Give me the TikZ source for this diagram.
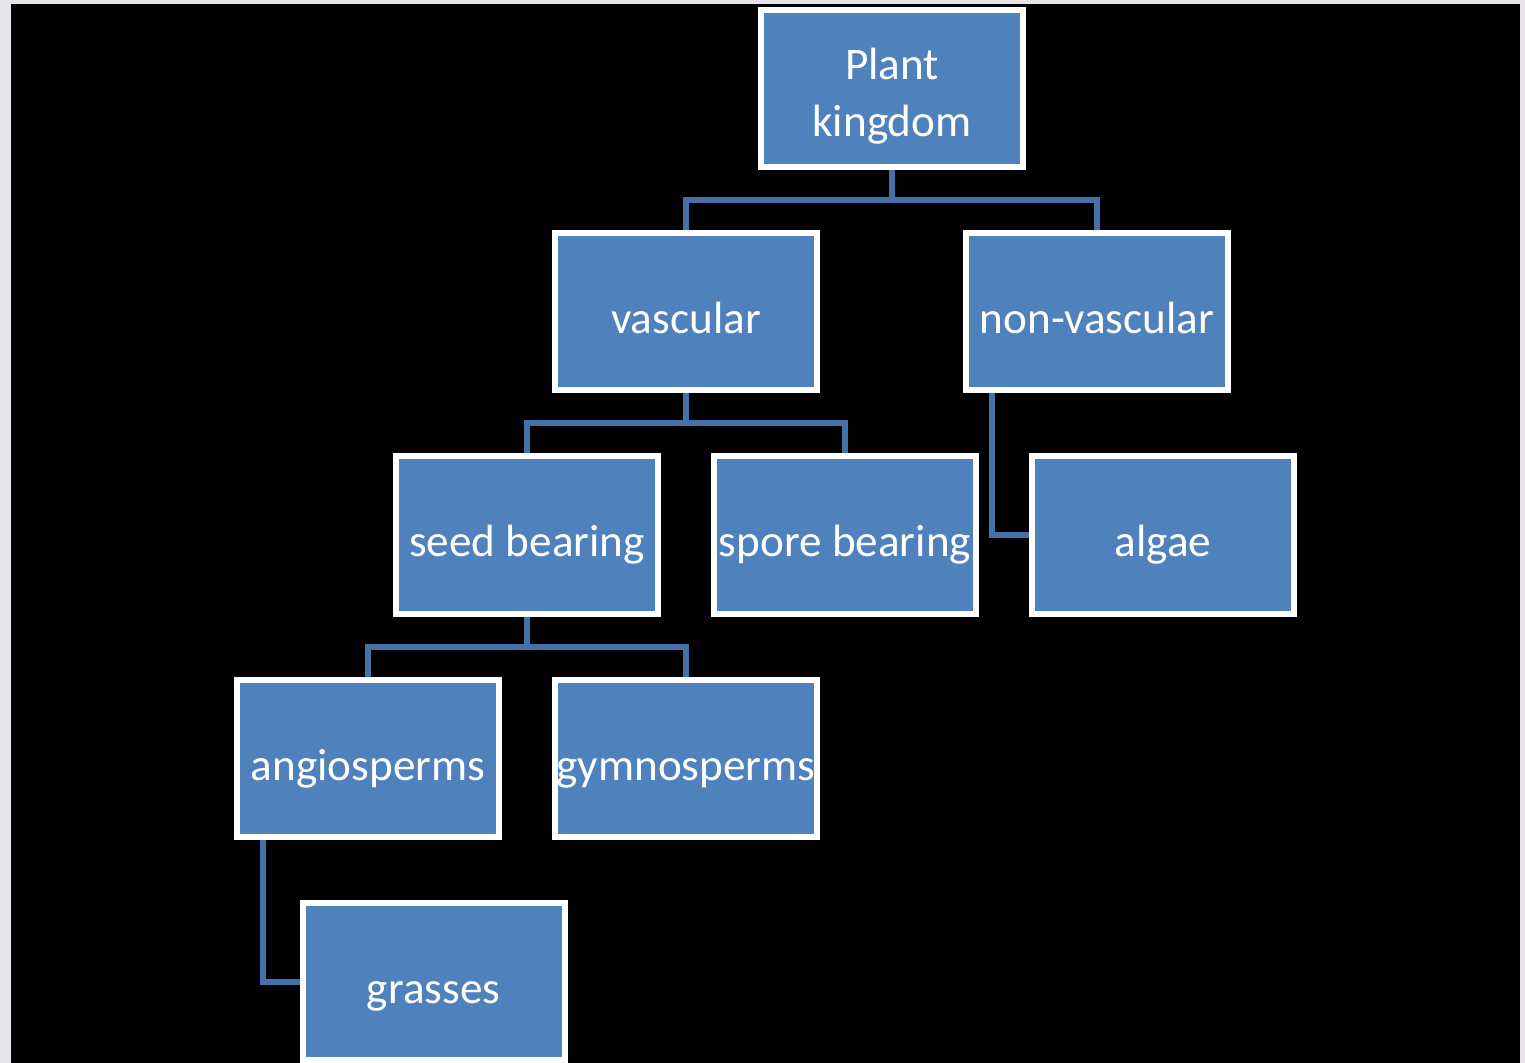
\documentclass[tikz,border=0pt]{standalone}
\usepackage{fontspec}
\setmainfont{Carlito}
\usepackage{xcolor}
\usepackage{tikz}
\usetikzlibrary{calc,positioning}
\definecolor{boxblue}{RGB}{79,129,189}
\definecolor{linkblue}{RGB}{68,114,168}
\definecolor{pagegray}{RGB}{231,229,234}

\begin{document}
\begin{tikzpicture}[x=0.5pt,y=-0.5pt,
  box/.style={draw=white,line width=3pt,fill=boxblue,text=white,
    minimum width=131pt,minimum height=78.5pt,inner sep=0pt,align=center,
    text height=26pt,text depth=4pt,
    font=\fontsize{22.6}{28.5}\selectfont},
  link/.style={draw=linkblue,line width=3pt}]
\useasboundingbox (0,0) rectangle (1525,1063);
\clip (0,0) rectangle (1525,1063);
\fill[pagegray] (0,0) rectangle (1525,1063);
\fill[black] (11,4) rectangle (1520,1063);
% boxes
\node[box,text height=52.5pt] (plant) at (892,88.5) {Plant\\kingdom};
\node[box] (vasc) at (686,311.5) {vascular};
\node[box] (nonvasc) at (1097,311.5) {non-vascular};
\node[box] (seed) at (527,535) {seed bearing};
\node[box] (spore) at (845,535) {spore bearing};
\node[box] (algae) at (1163,535) {algae};
\node[box] (angio) at (368,758.5) {angiosperms};
\node[box] (gymno) at (686,758.5) {gymnosperms};
\node[box] (grass) at (433.5,981.5) {grasses};
% links
\draw[link] (plant.south) -- ++(0,30) -| (vasc.north);
\draw[link] (plant.south) -- ++(0,30) -| (nonvasc.north);
\draw[link] (vasc.south) -- ++(0,30) -| (seed.north);
\draw[link] (vasc.south) -- ++(0,30) -| (spore.north);
\draw[link] (seed.south) -- ++(0,30) -| (angio.north);
\draw[link] (seed.south) -- ++(0,30) -| (gymno.north);
\draw[link] ($(nonvasc.south west)+(29,0)$) |- (algae.west);
\draw[link] ($(angio.south west)+(29,0)$) |- (grass.west);
\end{tikzpicture}
\end{document}
